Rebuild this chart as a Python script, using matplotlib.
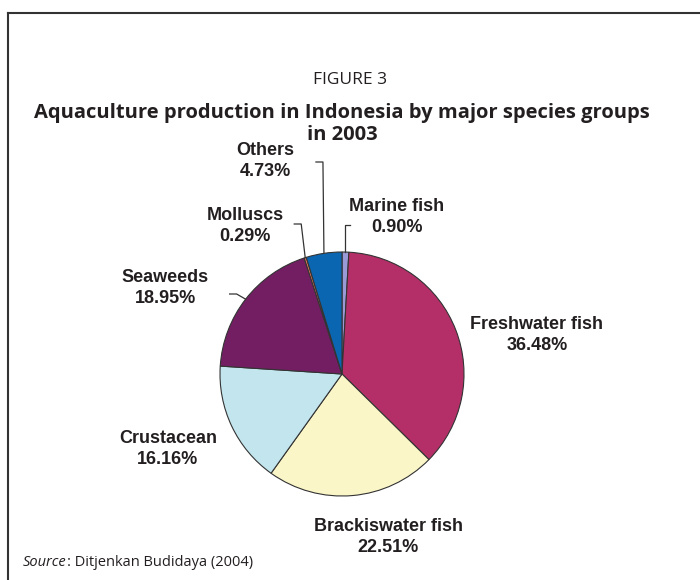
import numpy as np
import matplotlib.pyplot as plt

# slices in clockwise order, starting at 12 o'clock
groups = ["Marine fish", "Freshwater fish", "Brackiswater fish", "Crustacean",
          "Seaweeds", "Molluscs", "Others"]
shares = [0.90, 36.48, 22.51, 16.16, 18.95, 0.29, 4.73]
colors = ["#9a9ad6", "#b42f68", "#fbf6c8", "#c2e5ee", "#731e62", "#e8775a", "#0b66b2"]

W, H = 700, 580
fig = plt.figure(figsize=(W / 100, H / 100), dpi=100)
ax = fig.add_axes([0, 0, 1, 1])
ax.set_xlim(0, W)
ax.set_ylim(0, H)
ax.set_aspect("equal")
ax.axis("off")

cx, cy, r = 342, H - 374, 122
wedges, _ = ax.pie(shares, colors=colors, startangle=90, counterclock=False,
                   center=(cx, cy), radius=r, frame=True,
                   wedgeprops=dict(edgecolor="#333333", linewidth=0.8))
ax.set_xlim(0, W)
ax.set_ylim(0, H)
ax.axis("off")


def edge_point(w):
    a = np.deg2rad((w.theta1 + w.theta2) / 2)
    return cx + r * np.cos(a), cy + r * np.sin(a)


lab = dict(fontsize=13, fontweight="bold", family="Liberation Sans",
           color="#231f20", ha="center", va="center", linespacing=1.35)
# label centres in pixel coords (x, y from top)
label_pos = {
    "Marine fish": (397, 217),
    "Freshwater fish": (537, 335),
    "Brackiswater fish": (388, 537),
    "Crustacean": (168, 449),
    "Seaweeds": (165, 288),
    "Molluscs": (245, 226),
    "Others": (265, 161),
}
for g, s, w in zip(groups, shares, wedges):
    x, y = label_pos[g]
    ax.text(x, H - y, f"{g}\n{s:.2f}%", **lab)

lc = dict(color="#333333", linewidth=0.9)
# leader lines
ex, ey = edge_point(wedges[0])
ax.plot([ex, ex, ex + 5], [ey, H - 225, H - 225], **lc)
ex, ey = edge_point(wedges[6])
ax.plot([ex, ex - 1, ex - 8], [ey, H - 162, H - 162], **lc)
ex, ey = edge_point(wedges[5])
ax.plot([ex, ex - 4, ex - 11], [ey, H - 224, H - 224], **lc)
ex, ey = edge_point(wedges[4])
ax.plot([ex, ex - 9, ex - 16], [ey, H - 294, H - 294], **lc)

# frame: top and left rule
ax.plot([8, W], [H - 13, H - 13], color="#333333", linewidth=1.5)
ax.plot([8, 8], [H - 13, 0], color="#333333", linewidth=1.5)

tf = ["Open Sans", "DejaVu Sans"]
ax.text(350, H - 80, "FIGURE 3", fontsize=12.5, family=tf, color="#231f20",
        ha="center", va="center")
ax.text(342, H - 124, "Aquaculture production in Indonesia by major species groups\nin 2003",
        fontsize=14.5, fontweight="bold", family=tf, color="#231f20",
        ha="center", va="center", linespacing=1.15)

src = ax.text(23, H - 562, "Source", fontsize=10.5, style="italic", family=tf,
              color="#231f20", ha="left", va="center")
fig.canvas.draw()
bb = src.get_window_extent(fig.canvas.get_renderer())
ax.text(bb.x1, H - 562, ": Ditjenkan Budidaya (2004)", fontsize=10.5, family=tf,
        color="#231f20", ha="left", va="center")

fig.savefig("out.png", dpi=100)
